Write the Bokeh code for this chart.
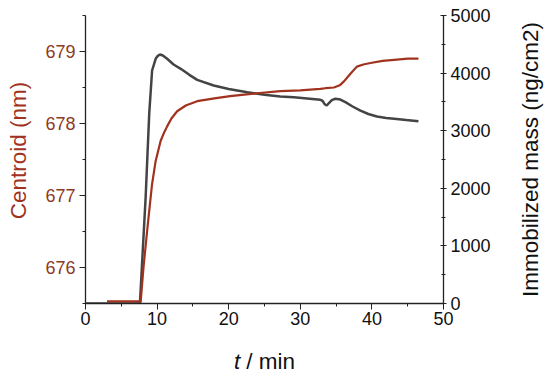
import math
from bokeh.plotting import figure
from bokeh.layouts import column, row
from bokeh.models import Range1d, LinearAxis, SingleIntervalTicker, Label
from bokeh.embed import file_html
from bokeh.resources import INLINE

# Centroid series (nm)
t_centroid = [3.0, 7.5, 7.7, 8.1, 8.6, 9.0, 9.3, 9.8, 10.5, 11.0, 11.4, 12.0, 12.8, 14.0, 15.6,
              18.0, 20.2, 24.0, 27.2, 30.0, 32.8, 33.5, 34.7, 35.5, 36.1, 37.0, 37.9, 38.8,
              39.8, 41.5, 43.1, 45.0, 46.5]
centroid = [675.53, 675.53, 675.52, 676.0, 676.5, 676.88, 677.16, 677.48, 677.76, 677.88, 677.96,
            678.07, 678.17, 678.25, 678.31, 678.35, 678.38, 678.42, 678.45, 678.46, 678.48,
            678.49, 678.5, 678.53, 678.585, 678.69, 678.79, 678.82, 678.84, 678.87, 678.885,
            678.9, 678.9]

# Immobilized mass series (ng/cm2)
t_mass = [0, 7.6, 7.9, 8.4, 8.9, 9.3, 9.8, 10.1, 10.4, 10.8, 11.4, 12.3, 13.3, 14.5, 15.6, 17.9,
          20.0, 22.6, 25.0, 27.2, 29.1, 32.8, 33.1, 33.4, 33.7, 34.0, 34.4, 34.9, 35.6, 36.3,
          37.3, 38.4, 39.5, 40.7, 42.0, 43.1, 44.8, 46.5]
mass = [0, 0, 690, 1845, 3293, 4045, 4248, 4300, 4323, 4305, 4248, 4150, 4074, 3970, 3883, 3785,
        3725, 3668, 3625, 3594, 3580, 3536, 3520, 3460, 3437, 3480, 3530, 3554, 3540, 3495,
        3420, 3350, 3290, 3246, 3220, 3207, 3185, 3165]

x_label_italic = "t"
x_label_rest = "/ min"
left_label = "Centroid (nm)"
right_label = "Immobilized mass (ng/cm2)"

FONT = "Liberation Sans"
TITLE_SIZE = "22.5px"
RED = "#A0321E"
RED_TICK = "#8E3A26"
GRAY = "#444444"
W = 550
W_LEFT, W_RIGHT = 34, 32
H_MAIN, H_BOTTOM = 335, 34
BL, BR = 85 - W_LEFT, 75
FRAME_BOTTOM_GAP = 32   # frame bottom sits 32px above the bottom of the top row


def blank(fig):
    fig.outline_line_color = None
    fig.xgrid.visible = False
    fig.ygrid.visible = False
    fig.background_fill_color = "white"
    fig.border_fill_color = "white"


def strip(width, height):
    f = figure(width=width, height=height, output_backend="svg", toolbar_location=None,
               x_range=Range1d(0, 1), y_range=Range1d(0, 1), x_axis_type=None, y_axis_type=None,
               min_border_left=0, min_border_right=0, min_border_top=0, min_border_bottom=0)
    blank(f)
    return f


p = figure(width=W - W_LEFT - W_RIGHT, height=H_MAIN, output_backend="svg", toolbar_location=None,
           x_range=Range1d(0, 50), y_range=Range1d(675.5, 679.5),
           min_border_left=BL, min_border_right=BR, min_border_top=15,
           min_border_bottom=FRAME_BOTTOM_GAP)
blank(p)
p.extra_y_ranges = {"mass": Range1d(0, 5000)}

# x axis
xa = p.xaxis[0]
xa.ticker = SingleIntervalTicker(interval=10, num_minor_ticks=2)
xa.axis_line_color = "#222222"
xa.axis_line_width = 1.3
xa.major_tick_line_color = "#222222"
xa.minor_tick_line_color = "#222222"
xa.major_tick_out = 6
xa.major_tick_in = 0
xa.minor_tick_out = 3
xa.minor_tick_in = 0
xa.major_label_text_font = FONT
xa.major_label_text_font_size = "18px"
xa.major_label_text_color = "#111111"
xa.major_label_standoff = 2

# left axis (title drawn in a strip to its left)
ya = p.yaxis[0]
ya.ticker = SingleIntervalTicker(interval=1, num_minor_ticks=2)
ya.axis_line_color = "#222222"
ya.axis_line_width = 1.3
ya.major_tick_line_color = "#222222"
ya.minor_tick_line_color = "#222222"
ya.major_tick_out = 6
ya.major_tick_in = 0
ya.minor_tick_out = 3
ya.minor_tick_in = 0
ya.major_label_text_font = FONT
ya.major_label_text_font_size = "18px"
ya.major_label_text_color = RED_TICK
ya.major_label_standoff = 4

# right axis (title drawn in a strip to its right)
ra = LinearAxis(y_range_name="mass", ticker=SingleIntervalTicker(interval=1000, num_minor_ticks=2))
ra.axis_line_color = "#222222"
ra.axis_line_width = 1.3
ra.major_tick_line_color = "#222222"
ra.minor_tick_line_color = "#222222"
ra.major_tick_out = 3
ra.major_tick_in = 3
ra.minor_tick_out = 2
ra.minor_tick_in = 2
ra.major_label_text_font = FONT
ra.major_label_text_font_size = "18px"
ra.major_label_text_color = "#111111"
ra.major_label_standoff = 4
p.add_layout(ra, "right")

p.line(t_mass, mass, y_range_name="mass", line_color=GRAY, line_width=2.5)
p.line(t_centroid, centroid, line_color=RED, line_width=2.2)

# left strip: centroid axis title (frame aligned with the main frame)
pl = strip(W_LEFT, H_MAIN)
pl.add_layout(Label(x=18, y=H_MAIN - FRAME_BOTTOM_GAP - 150, x_units="screen", y_units="screen",
                    text=left_label, angle=math.pi / 2, text_font=FONT,
                    text_font_size=TITLE_SIZE, text_align="center", text_baseline="middle",
                    text_color=RED))

# right strip: mass axis title reading bottom-to-top
pr = strip(W_RIGHT, H_MAIN)
pr.add_layout(Label(x=12, y=H_MAIN - FRAME_BOTTOM_GAP - 159, x_units="screen", y_units="screen",
                    text=right_label, angle=math.pi / 2, text_font=FONT,
                    text_font_size=TITLE_SIZE, text_align="center", text_baseline="middle",
                    text_color="#111111"))

# bottom strip: x axis title with italic t
pb = figure(width=W, height=H_BOTTOM, output_backend="svg", toolbar_location=None,
            x_range=p.x_range, y_range=Range1d(0, 1), x_axis_type=None, y_axis_type=None,
            min_border_left=BL + W_LEFT, min_border_right=BR + W_RIGHT,
            min_border_top=0, min_border_bottom=0)
blank(pb)
pb.add_layout(Label(x=21.6, y=8, x_units="data", y_units="screen", text=x_label_italic,
                    text_font=FONT, text_font_style="italic", text_font_size=TITLE_SIZE,
                    text_align="right", text_baseline="alphabetic", text_color="#111111"))
pb.add_layout(Label(x=21.6, y=8, x_units="data", y_units="screen", text=x_label_rest,
                    x_offset=6, text_font=FONT, text_font_style="normal", text_font_size=TITLE_SIZE,
                    text_align="left", text_baseline="alphabetic", text_color="#111111"))

layout = column(row(pl, p, pr, spacing=0), pb, spacing=0)
open("out.html", "w").write(file_html(layout, INLINE))
